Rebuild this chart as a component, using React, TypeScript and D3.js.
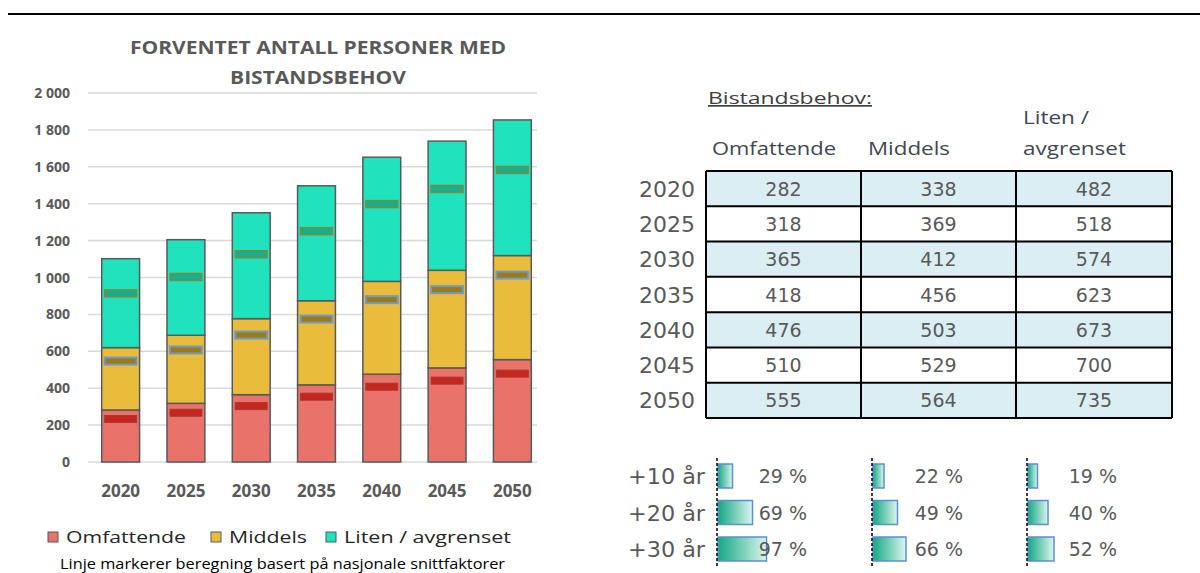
import React from 'react';
import * as d3 from 'd3';

const years = ['2020', '2025', '2030', '2035', '2040', '2045', '2050'];
const omfattende = [282, 318, 365, 418, 476, 510, 555];
const middels = [338, 369, 412, 456, 503, 529, 564];
const liten = [482, 518, 574, 623, 673, 700, 735];

// national-average estimates (per segment)
const natOmfattende = [233, 267, 303, 354, 408, 441, 479];
const natMiddels = [314, 340, 385, 421, 472, 493, 534];
const natLiten = [367, 396, 438, 476, 518, 546, 570];

const yTicks = [0, 200, 400, 600, 800, 1000, 1200, 1400, 1600, 1800, 2000];
const seriesNames = ['Omfattende', 'Middels', 'Liten / avgrenset'];
const seriesColors = ['#E9736A', '#E9BC3C', '#1FE3BD'];

const growthLabels = ['+10 år', '+20 år', '+30 år'];
const growthOmf = [29, 69, 97];
const growthMid = [22, 49, 66];
const growthLit = [19, 40, 52];

const FONT = "'Open Sans', sans-serif";
const SANS2 = "'DejaVu Sans', sans-serif";

export default function App() {
  const x = d3.scaleBand<string>().domain(years).range([88, 545]).paddingInner(0.42).paddingOuter(0.21);
  const y = d3.scaleLinear().domain([0, 2000]).range([462, 93]);
  const fmt = d3.formatLocale({ decimal: ',', thousands: ' ', grouping: [3], currency: ['', ''] }).format(',d');

  const rows = years.map((yr, i) => ({ yr, Omfattende: omfattende[i], Middels: middels[i], Liten: liten[i] }));
  const stack = d3.stack<any>().keys(['Omfattende', 'Middels', 'Liten'])(rows);

  const natRows = years.map((yr, i) => ({ yr, a: natOmfattende[i], b: natMiddels[i], c: natLiten[i] }));
  const natStack = d3.stack<any>().keys(['a', 'b', 'c'])(natRows);
  const markerStyles = [
    { fill: '#C4271F', stroke: '#A83A30', sw: 1 },
    { fill: '#9E7A12', stroke: '#6C9AD2', sw: 2 },
    { fill: '#18AE8C', stroke: '#7F8B3A', sw: 1.5 },
  ];

  const colEdges = [706, 861, 1016, 1172];
  const rowY = d3.scaleBand<string>().domain(years).range([171, 418]);
  const tableCols = [omfattende, middels, liten];

  const gRow = d3.scalePoint<string>().domain(growthLabels).range([476, 549]);
  const gW = d3.scaleLinear().domain([0, 100]).range([0, 50]);
  const gBase = [717, 872, 1027];
  const gTextRight = [807, 963, 1117];
  const gData = [growthOmf, growthMid, growthLit];

  return (
    <svg width={1200} height={573} style={{ position: 'absolute', left: 0, top: 0, background: '#fff' }}>
      <defs>
        <linearGradient id="gbar" x1="0" x2="1" y1="0" y2="0">
          <stop offset="0" stopColor="#14A883" />
          <stop offset="1" stopColor="#DDF5EE" />
        </linearGradient>
      </defs>
      <rect x={0} y={0} width={1200} height={573} fill="#fff" />
      <line x1={8} x2={1200} y1={14} y2={14} stroke="#000" strokeWidth={2} />

      <text x={318} y={54} textAnchor="middle" fontFamily={FONT} fontWeight={700} fontSize={18} fill="#595959" textLength={376} lengthAdjust="spacingAndGlyphs">FORVENTET ANTALL PERSONER MED</text>
      <text x={318} y={84} textAnchor="middle" fontFamily={FONT} fontWeight={700} fontSize={18} fill="#595959" textLength={176} lengthAdjust="spacingAndGlyphs">BISTANDSBEHOV</text>

      {yTicks.map(t => (
        <g key={t}>
          <line x1={88} x2={537} y1={y(t)} y2={y(t)} stroke="#D9D9D9" strokeWidth={1.5} />
          <text x={70} y={y(t) + 5} textAnchor="end" fontFamily={FONT} fontWeight={700} fontSize={14} fill="#595959">{fmt(t)}</text>
        </g>
      ))}

      {stack.map((s, si) => (
        <g key={si}>
          {s.map((d: any, i: number) => (
            <rect key={i} x={x(years[i])!} y={y(d[1])} width={x.bandwidth()} height={y(d[0]) - y(d[1])}
              fill={seriesColors[si]} stroke="#595959" strokeWidth={1.5} />
          ))}
        </g>
      ))}
      {natStack.map((s, si) => (
        <g key={si}>
          {s.map((d: any, i: number) => (
            <rect key={i} x={x(years[i])! + 3} y={y(d[1]) - 3.5} width={x.bandwidth() - 6} height={7}
              fill={markerStyles[si].fill} stroke={markerStyles[si].stroke} strokeWidth={markerStyles[si].sw} />
          ))}
        </g>
      ))}

      {years.map(yr => (
        <text key={yr} x={x(yr)! + x.bandwidth() / 2} y={497} textAnchor="middle" fontFamily={FONT} fontWeight={700} fontSize={17} fill="#595959">{yr}</text>
      ))}

      {[
        { sx: 48, tx: 66, tl: 120 },
        { sx: 211, tx: 229, tl: 78 },
        { sx: 326, tx: 344, tl: 167 },
      ].map((l, i) => (
        <g key={i}>
          <rect x={l.sx} y={532} width={10} height={10} fill={seriesColors[i]} stroke="#595959" strokeWidth={1} />
          <text x={l.tx} y={543} fontFamily={FONT} fontSize={16} fill="#262626" textLength={l.tl} lengthAdjust="spacingAndGlyphs">{seriesNames[i]}</text>
        </g>
      ))}
      <text x={60} y={569} fontFamily={FONT} fontSize={15} fill="#000" textLength={445} lengthAdjust="spacingAndGlyphs">Linje markerer beregning basert på nasjonale snittfaktorer</text>

      <text x={708} y={104} fontFamily={FONT} fontSize={17} fill="#404040" textDecoration="underline" textLength={164} lengthAdjust="spacingAndGlyphs">Bistandsbehov:</text>
      <text x={712} y={155} fontFamily={FONT} fontSize={18} fill="#3E4852" textLength={124} lengthAdjust="spacingAndGlyphs">Omfattende</text>
      <text x={868} y={155} fontFamily={FONT} fontSize={18} fill="#3E4852" textLength={82} lengthAdjust="spacingAndGlyphs">Middels</text>
      <text x={1023} y={124} fontFamily={FONT} fontSize={18} fill="#3E4852" textLength={66} lengthAdjust="spacingAndGlyphs">Liten /</text>
      <text x={1023} y={155} fontFamily={FONT} fontSize={18} fill="#3E4852" textLength={103} lengthAdjust="spacingAndGlyphs">avgrenset</text>

      {years.map((yr, ri) => (
        <g key={yr}>
          <rect x={colEdges[0]} y={rowY(yr)!} width={colEdges[3] - colEdges[0]} height={rowY.bandwidth()} fill={ri % 2 === 0 ? '#DAEEF3' : '#FFFFFF'} />
          <text x={695} y={rowY(yr)! + rowY.bandwidth() / 2 + 8} textAnchor="end" fontFamily={SANS2} fontSize={22} fill="#595959">{yr}</text>
          {tableCols.map((col, ci) => (
            <text key={ci} x={(colEdges[ci] + colEdges[ci + 1]) / 2} y={rowY(yr)! + rowY.bandwidth() / 2 + 7} textAnchor="middle" fontFamily={SANS2} fontSize={19} fill="#595959">{col[ri]}</text>
          ))}
        </g>
      ))}
      {years.concat(['end']).map((yr, i) => {
        const yy = i < years.length ? rowY(yr)! : 418;
        return <line key={'h' + i} x1={colEdges[0]} x2={colEdges[3]} y1={yy} y2={yy} stroke="#000" strokeWidth={2} />;
      })}
      {colEdges.map((cx, i) => (
        <line key={'v' + i} x1={cx} x2={cx} y1={171} y2={418} stroke="#000" strokeWidth={2} />
      ))}

      {growthLabels.map(g => (
        <text key={g} x={628} y={gRow(g)! + 8} fontFamily={SANS2} fontSize={21} fill="#595959" textLength={77} lengthAdjust="spacingAndGlyphs">{g}</text>
      ))}
      {gData.map((arr, gi) => (
        <g key={gi}>
          {arr.map((v, i) => (
            <rect key={i} x={gBase[gi] + 1} y={gRow(growthLabels[i])! - 12} width={gW(v)} height={24}
              fill="url(#gbar)" stroke="#5B8FD6" strokeWidth={1.5} />
          ))}
          <line x1={gBase[gi]} x2={gBase[gi]} y1={458} y2={566} stroke="#000" strokeWidth={1.5} strokeDasharray="3,2" />
          {arr.map((v, i) => (
            <text key={'t' + i} x={gTextRight[gi]} y={gRow(growthLabels[i])! + 7} textAnchor="end" fontFamily={SANS2} fontSize={19} fill="#595959">{v + ' %'}</text>
          ))}
        </g>
      ))}
    </svg>
  );
}
